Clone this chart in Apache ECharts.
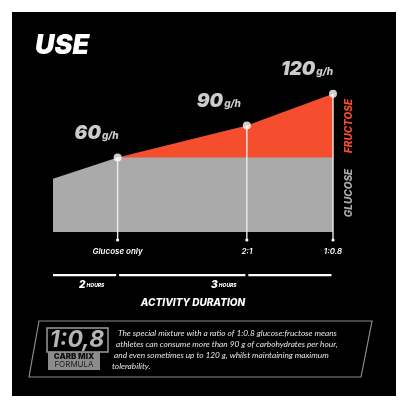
<!DOCTYPE html>
<html><head><meta charset="utf-8">
<script src="https://cdn.jsdelivr.net/npm/echarts@6/dist/echarts.min.js"></script>
<style>html,body{margin:0;padding:0;background:#fff}#c{width:408px;height:408px}</style>
</head><body><div id="c"></div>
<script>
// ---- data ----
var glucoseX = [1.5, 2, 3, 11/3];          // activity duration (hours)
var glucoseY = [40, 60, 60, 60];           // glucose g/h
var totalX = [2, 3, 11/3];
var totalY = [60, 90, 120];                // total carbs g/h
var rateLabels = ['60', '90', '120'];
var tickLabels = ['Glucose only', '2:1', '1:0.8'];
var durationSegments = [[1.5, 2], [2, 3], [3, 11/3]];
var durationLabels = ['2', '3'];
var paragraph = [
  'The special mixture with a ratio of 1:0.8 glucose:fructose means',
  'athletes can consume more than 90 g of carbohydrates per hour,',
  'and even sometimes up to 120 g, whilst maintaining maximum',
  'tolerability.'
];

var RED = '#f44e2e', GRAY = '#aaaaaa';
var yMin = -10, yMax = 130;
var chart = echarts.init(document.getElementById('c'));
var heavy = 'Inter';

function zip(a, b){ return a.map(function(v,i){ return [v, b[i]]; }); }

var labelOffsets = [[-21,-6],[-28,-6],[-26,-6]];

chart.setOption({
  backgroundColor: '#ffffff',
  animation: false,
  grid: {left: 53, right: 75, top: 83, bottom: 176},
  xAxis: {type: 'value', min: 1.5, max: 11/3, show: false},
  yAxis: {type: 'value', min: yMin, max: yMax, show: false},
  graphic: [
    {type:'rect', z:-10, shape:{x:12,y:12,width:384,height:384}, style:{fill:'#000'}},
    {type:'text', x:35, y:46, style:{text:'USE', fill:'#fff', font:'italic 900 27px Inter', verticalAlign:'middle'}},
    {type:'text', x:349, y:126, rotation:Math.PI/2, style:{text:'FRUCTOSE', fill:RED, font:'italic 800 10px Inter', align:'center', verticalAlign:'middle'}},
    {type:'text', x:349, y:193, rotation:Math.PI/2, style:{text:'GLUCOSE', fill:GRAY, font:'italic 800 10px Inter', align:'center', verticalAlign:'middle'}},
    {type:'text', x:79, y:285, style:{text:'{n|' + durationLabels[0] + '}{u| HOURS}', verticalAlign:'middle', rich:{n:{fill:'#fff', font:'italic 900 10px Inter'}, u:{fill:'#fff', font:'italic 800 5px Inter'}}}},
    {type:'text', x:211, y:285, style:{text:'{n|' + durationLabels[1] + '}{u| HOURS}', verticalAlign:'middle', rich:{n:{fill:'#fff', font:'italic 900 10px Inter'}, u:{fill:'#fff', font:'italic 800 5px Inter'}}}},
    {type:'text', x:193, y:303, style:{text:'ACTIVITY DURATION', fill:'#fff', font:'italic 800 10px Inter', align:'center', verticalAlign:'middle'}},
    {type:'polygon', shape:{points:[[39,321],[372,321],[361,377],[29,377]]}, style:{fill:'none', stroke:'#8a8a8a', lineWidth:1.2}},
    {type:'rect', shape:{x:47,y:328,width:61,height:24}, style:{fill:'none', stroke:'#9a9a9a', lineWidth:1.5}},
    {type:'text', x:77, y:340, style:{text:'1:0,8', fill:'#b5b5b5', font:'italic 700 23px Inter', align:'center', verticalAlign:'middle'}},
    {type:'rect', shape:{x:48,y:352,width:52,height:18}, style:{fill:'#8c8c8c'}},
    {type:'text', x:74, y:356.5, style:{text:'CARB MIX', fill:'#111', font:'900 8px Inter', align:'center', verticalAlign:'middle'}},
    {type:'text', x:74, y:365, style:{text:'FORMULA', fill:'#222', font:'400 8px Inter', align:'center', verticalAlign:'middle'}}
  ].concat(paragraph.map(function(t, i){
    return {type:'text', x:118 - i*2, y:333 + i*11, style:{text:t, fill:'#e6e6e6', font:'italic 400 8.3px Lato', verticalAlign:'middle'}};
  })),
  series: [
    {type:'line', data: zip(totalX, totalY), symbol:'none', lineStyle:{width:0}, areaStyle:{color:RED, opacity:1, origin:'start'}, z:1},
    {type:'line', data: zip(glucoseX, glucoseY), symbol:'none', lineStyle:{width:0}, areaStyle:{color:GRAY, opacity:1, origin:'start'}, z:2},
    {type:'custom', z:3, data: durationSegments, renderItem: function(params, api){
      var a = api.coord([api.value(0), yMin]), b = api.coord([api.value(1), yMin]);
      return {type:'rect', shape:{x:a[0] + (params.dataIndex ? 1.5 : 0), y:274, width:b[0]-a[0]-1.5 - (params.dataIndex ? 1.5 : 0), height:2.2}, style:{fill:'#fff'}};
    }},
    {type:'custom', z:4, data: zip(totalX, totalY), renderItem: function(params, api){
      var top = api.coord([api.value(0), api.value(1)]);
      var base = api.coord([api.value(0), yMin]);
      return {type:'group', children:[
        {type:'line', shape:{x1:top[0], y1:top[1], x2:top[0], y2:base[1]+8}, style:{stroke:'#ececec', lineWidth:1.4}},
        {type:'circle', shape:{cx:top[0], cy:base[1]+8, r:1.6}, style:{fill:'#fff'}},
        {type:'text', x: top[0], y: base[1]+20, style:{text: tickLabels[params.dataIndex], fill:'#fff', font:'italic 600 8px Inter', align:'center', verticalAlign:'middle'}}
      ]};
    }},
    {type:'scatter', z:5, symbolSize:8, itemStyle:{color:'#fff'},
     data: zip(totalX, totalY).map(function(p, i){
       return {value:p, label:{show:true, position:'top', offset:labelOffsets[i],
         formatter:'{n|' + rateLabels[i] + '}{u|g/h}',
         rich:{n:{color:'#fff', fontFamily:heavy, fontWeight:900, fontStyle:'italic', fontSize:19},
               u:{color:'#fff', fontFamily:heavy, fontWeight:800, fontStyle:'italic', fontSize:10, padding:[5,0,0,1]}}}};
     })}
  ]
});
</script></body></html>
